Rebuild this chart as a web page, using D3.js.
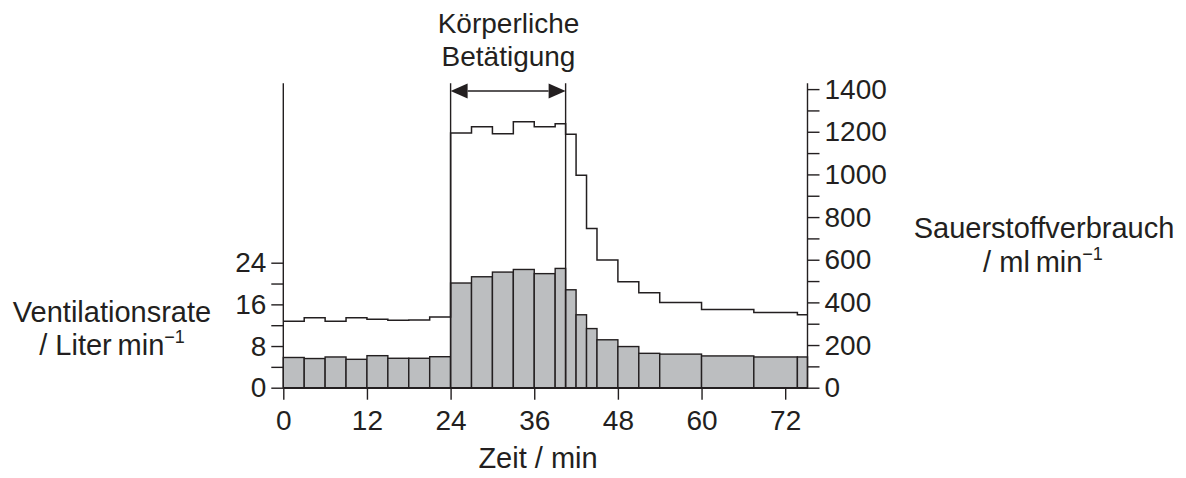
<!DOCTYPE html>
<html>
<head>
<meta charset="utf-8">
<script src="https://cdn.jsdelivr.net/npm/d3@7"></script>
<style>
  body { margin: 0; background: #fff; }
  svg text { font-family: "Liberation Sans", Arial, sans-serif; fill: #231f20; }
</style>
</head>
<body>
<div class="chart"></div>
<script>
// time boundaries of each measurement interval (min)
const edges = [0, 3, 6, 9, 12, 15, 18, 21, 24, 27, 30, 33, 36, 39, 40.5, 42, 43.5, 45, 48, 51, 54, 60, 67.5, 73.75, 75.2];
// ventilation rate per interval (Liter/min)
const ventilation = [5.8, 5.6, 5.9, 5.45, 6.15, 5.65, 5.65, 5.95, 20.1, 21.3, 22.2, 22.7, 21.9, 22.9, 18.8, 14.0, 11.35, 9.2, 7.9, 6.6, 6.45, 6.1, 5.9, 5.9];
// oxygen consumption per interval (ml/min)
const oxygen = [311, 328, 311, 328, 321, 316, 318, 331, 1194, 1224, 1191, 1247, 1224, 1238, 1188, 996, 746, 599, 497, 445, 400, 367, 353, 342];

const xTicks = [0, 12, 24, 36, 48, 60, 72];
const leftTicks = [0, 4, 8, 12, 16, 20, 24];
const rightTicks = d3.range(0, 1401, 100);
const exercise = [24, 40.5];

const width = 1186, height = 478;
const ink = '#231f20';

const svg = d3.select('.chart')
  .append('svg')
  .attr('width', width)
  .attr('height', height);

const plotTop = 83.3, plotBottom = 387.7;

const x = d3.scaleLinear().domain([0, 75.2]).range([283.3, 807.5]);
const yL = d3.scaleLinear().domain([0, 24]).range([plotBottom, 262.7]);
const yR = d3.scaleLinear().domain([0, 1400]).range([plotBottom, 89.1]);

// bars
svg.append('g')
  .selectAll('rect')
  .data(ventilation)
  .join('rect')
  .attr('x', (d, i) => x(edges[i]))
  .attr('width', (d, i) => x(edges[i + 1]) - x(edges[i]))
  .attr('y', d => yL(d))
  .attr('height', d => plotBottom - yL(d))
  .attr('fill', '#bcbec0')
  .attr('stroke', ink)
  .attr('stroke-width', 1.4);

// oxygen step line
const pts = oxygen.map((v, i) => [edges[i], v]);
pts.push([edges[edges.length - 1], oxygen[oxygen.length - 1]]);

const line = d3.line()
  .x(d => x(d[0]))
  .y(d => yR(d[1]))
  .curve(d3.curveStepAfter);

svg.append('path')
  .datum(pts)
  .attr('fill', 'none')
  .attr('stroke', ink)
  .attr('stroke-width', 1.5)
  .attr('d', line);

// exercise markers
svg.append('g')
  .selectAll('line')
  .data(exercise)
  .join('line')
  .attr('x1', d => x(d))
  .attr('x2', d => x(d))
  .attr('y1', plotTop)
  .attr('y2', plotBottom)
  .attr('stroke', ink)
  .attr('stroke-width', 1.4);

const ay = 91, ah = 17, aw = 7.5;
const ax0 = x(exercise[0]), ax1 = x(exercise[1]);
svg.append('line')
  .attr('x1', ax0 + ah).attr('x2', ax1 - ah)
  .attr('y1', ay).attr('y2', ay)
  .attr('stroke', ink).attr('stroke-width', 1.5);
svg.append('path')
  .attr('d', `M${ax0},${ay}L${ax0 + ah},${ay - aw}L${ax0 + ah},${ay + aw}Z`)
  .attr('fill', ink);
svg.append('path')
  .attr('d', `M${ax1},${ay}L${ax1 - ah},${ay - aw}L${ax1 - ah},${ay + aw}Z`)
  .attr('fill', ink);

// axes
function styleAxis(g) {
  g.selectAll('line').attr('stroke', ink).attr('stroke-width', 1.4);
  g.selectAll('path').attr('stroke', ink).attr('stroke-width', 1.4);
  g.selectAll('text').style('font-size', '28px').attr('fill', ink);
}

svg.append('g')
  .attr('transform', `translate(0, ${plotBottom})`)
  .call(d3.axisBottom(x).tickValues(xTicks).tickSize(12).tickSizeOuter(0).tickPadding(10))
  .call(styleAxis);

svg.append('g')
  .attr('transform', `translate(${x(0)}, 0)`)
  .call(d3.axisLeft(yL).tickValues(leftTicks).tickSize(12).tickPadding(5)
    .tickFormat(d => d % 8 === 0 ? d : ''))
  .call(g => g.select('.domain').remove())
  .call(styleAxis);

svg.append('g')
  .attr('transform', `translate(${x(75.2)}, 0)`)
  .call(d3.axisRight(yR).tickValues(rightTicks).tickSize(12).tickPadding(5)
    .tickFormat(d => d % 200 === 0 ? d : ''))
  .call(g => g.select('.domain').remove())
  .call(styleAxis);

// vertical axis lines running up to the top
[x(0), x(75.2)].forEach(px => {
  svg.append('line')
    .attr('x1', px).attr('x2', px)
    .attr('y1', plotTop).attr('y2', plotBottom)
    .attr('stroke', ink).attr('stroke-width', 1.4);
});

// labels
function label(tx, ty, main, sup, size) {
  const t = svg.append('text')
    .attr('x', tx).attr('y', ty)
    .attr('text-anchor', 'middle')
    .style('font-size', (size || 29) + 'px');
  t.append('tspan').text(main);
  if (sup) {
    t.append('tspan').attr('dy', -12).style('font-size', '18px').text(sup);
  }
  return t;
}

label(508.5, 33, 'Körperliche', null, 28);
label(508.5, 66, 'Betätigung', null, 28);
label(112, 322, 'Ventilationsrate');
label(112, 355, '/ Liter\u2009min', '\u22121');
label(1044, 238, 'Sauerstoffverbrauch');
label(1043, 272, '/ ml\u2009min', '\u22121');
label(538, 468, 'Zeit / min');
</script>
</body>
</html>
